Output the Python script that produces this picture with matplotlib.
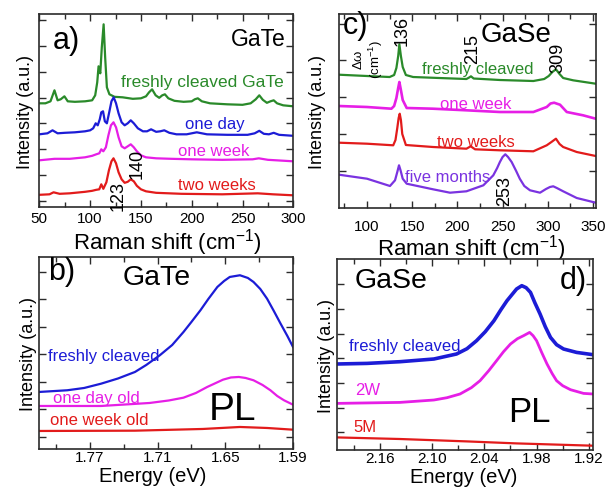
import numpy as np
import matplotlib
matplotlib.use('Agg')
import matplotlib.pyplot as plt
from matplotlib.ticker import MultipleLocator, FixedLocator

plt.rcParams['font.family'] = ['Liberation Sans', 'DejaVu Sans']
plt.rcParams['mathtext.fontset'] = 'custom'
plt.rcParams['mathtext.rm'] = 'Liberation Sans'
plt.rcParams['mathtext.it'] = 'Liberation Sans:italic'
plt.rcParams['mathtext.default'] = 'regular'

GREEN, BLUE, MAGENTA, RED, PURPLE = '#2a8a2a', '#1c1cd6', '#e61ee6', '#e21b1b', '#7a33e0'

# ---- a) GaTe Raman ----
a_fresh_x = [50, 56, 61, 64.9, 68, 71, 74.7, 78, 85, 95, 102, 105, 107, 108.3, 110, 111.5, 113.3, 114.8,
             116.5, 119, 124, 132, 142, 150, 155, 158, 161, 164.5, 168, 171, 173.6, 177, 183, 192, 200,
             203, 206, 210, 218, 235, 250, 258, 263, 266.5, 270, 274, 277.5, 280.7, 284, 290, 300]
a_fresh_y = [104, 104, 106, 117, 107, 108, 111, 106, 105.5, 106, 107, 112, 125, 141, 134, 160, 183, 150,
             120, 113, 110.5, 110, 108.5, 109, 111, 115, 118, 112, 109.5, 112, 113, 109, 106.5, 105.5, 106,
             108, 109, 106, 104, 103, 102.5, 104, 108, 112, 107.5, 104.5, 106, 107, 104, 102, 101]
a_day_x = [50, 58, 63, 68, 75, 85, 95, 100, 103, 105.5, 107.5, 109.5, 111, 112.7, 114.5, 116.5, 119, 121,
           123.2, 125.5, 128, 131, 134, 137, 140, 143, 147, 152, 156, 160, 165, 169, 173, 178, 185, 195,
           205, 215, 235, 255, 262, 266.5, 271, 276, 280.7, 286, 300]
a_day_y = [73, 74, 77, 74, 74.5, 75, 76, 77, 79, 84, 82, 88, 95, 96, 86, 84, 96, 106,
           110, 104, 94, 85, 82, 84, 87, 84, 79, 76, 76, 78, 75.5, 76, 77, 74.5, 73, 73,
           75, 73, 72.5, 72.5, 74, 76.5, 73.5, 73, 74.5, 72.5, 71.5]
a_week_x = [50, 65, 80, 95, 102, 106, 109, 111, 113, 115.5, 118, 120.5, 123, 125.5, 128, 131, 134, 137,
            140, 143, 146, 150, 155, 165, 180, 200, 230, 260, 266, 275, 300]
a_week_y = [47, 48.5, 48.5, 50, 51.5, 53, 54, 58, 56, 60, 72, 82, 85, 80, 70, 61, 59, 61,
            63, 60, 56, 52, 50, 49, 48.5, 48, 47.5, 48, 49, 47.5, 46]
a_2w_x = [50, 60, 64, 70, 80, 95, 102, 106, 109, 111, 113, 116, 118.5, 121, 123, 125.5, 128, 131, 134,
          137, 140, 143, 146, 150, 155, 165, 190, 230, 265, 280, 300]
a_2w_y = [12.5, 13, 15, 13.5, 14, 15.5, 16.5, 17.5, 18, 23, 18.5, 25, 37, 46, 49, 44, 35, 28, 24.5,
          25.5, 28, 26, 21.5, 18, 16, 14.5, 13.5, 13, 14, 13, 12]

# ---- c) GaSe Raman ----
c_fresh_x = [69, 100, 125, 130, 132.5, 134.5, 135.8, 137.5, 139.5, 143, 151, 180, 210, 213, 215, 218,
             247, 284, 296, 301, 305, 309, 313, 317, 328, 353]
c_fresh_y = [133.3, 132, 131, 133, 140, 152, 163.7, 152, 141, 133, 131, 130, 129, 130.5, 131.7, 129.5,
             128, 127, 129, 132, 136, 138.7, 134, 130, 127.7, 124.3]
c_week_x = [69, 100, 127, 130, 132.5, 134.5, 135.8, 137.5, 139.5, 143.9, 173, 210, 247, 284, 298.8,
            303, 307, 309.5, 313.5, 321, 339, 353]
c_week_y = [102, 101, 99.3, 102, 110, 120, 126, 118, 108, 100, 99.3, 97.7, 96, 96, 101,
            104.5, 105.3, 104.5, 103.3, 96, 92.7, 89.3]
c_2w_x = [69, 100, 129, 131.5, 133.5, 135, 136.2, 137.5, 139, 143, 173, 210, 214.7, 219.5, 247, 284,
          298.8, 304, 309, 313, 317, 332, 353]
c_2w_y = [65.3, 64.3, 62.7, 68, 80, 90, 94.3, 88, 74, 63, 61, 59.3, 61.7, 58.7, 57.7, 56.7,
          62.7, 66, 69.3, 64, 61, 56, 52]
c_5m_x = [69, 100, 125.4, 131, 133.5, 135.4, 137, 139.5, 143.9, 173, 191.8, 210, 228.7, 239.7, 244, 247,
          250, 253, 256, 260, 265, 269, 274, 280.3, 291.4, 298, 302.4, 306, 310, 317, 332, 353]
c_5m_y = [33.3, 29.3, 22, 27.7, 36, 42.7, 38, 29.3, 24.3, 18.7, 15.3, 16.7, 22.7, 32.7, 40, 46,
          51, 53.7, 51, 46, 37, 29.3, 22, 17.7, 15.3, 19, 21, 21.7, 20, 16.7, 10, 5.3]

# ---- b) GaTe PL ----
b_fresh_x = [1.815, 1.79, 1.775, 1.76, 1.745, 1.73, 1.72, 1.708, 1.697, 1.687, 1.68, 1.672, 1.665, 1.657,
             1.651, 1.646, 1.637, 1.63, 1.625, 1.619, 1.613, 1.607, 1.601, 1.595, 1.59]
b_fresh_y = [60, 61.7, 64, 68.3, 73.5, 80, 87, 96.7, 107, 120, 130, 141.7, 153, 165,
             171, 175, 176.7, 174, 170, 163, 153.3, 141, 128.3, 116, 105]
b_day_x = [1.815, 1.76, 1.717, 1.70, 1.687, 1.676, 1.666, 1.652, 1.645, 1.638, 1.632, 1.625, 1.617,
           1.61, 1.604, 1.598, 1.59]
b_day_y = [46, 46, 49, 51.5, 54.3, 59, 65, 72.3, 74.5, 75, 74, 71.7, 67, 61.7, 56, 51.7, 47.3]
b_week_x = [1.815, 1.73, 1.67, 1.637, 1.613, 1.59]
b_week_y = [21, 21.3, 23, 25, 24, 22.3]

# ---- d) GaSe PL ----
d_fresh_x = [2.21, 2.175, 2.137, 2.098, 2.072, 2.06, 2.049, 2.039, 2.029, 2.021, 2.014, 2.003, 1.997,
             1.992, 1.987, 1.982, 1.976, 1.970, 1.964, 1.957, 1.949, 1.934, 1.915]
d_fresh_y = [91.7, 92.3, 94, 96.7, 101.7, 107, 115, 124, 135, 146, 155, 166.7, 170,
             168, 163.3, 153, 141.7, 129, 118.3, 111, 106.7, 103.3, 101]
d_2w_x = [2.21, 2.137, 2.098, 2.083, 2.068, 2.055, 2.045, 2.035, 2.026, 2.018, 2.01, 2.002, 1.995, 1.988,
          1.984, 1.98, 1.974, 1.968, 1.962, 1.957, 1.95, 1.941, 1.926, 1.915]
d_2w_y = [52.3, 53.3, 55.7, 58, 61.7, 68, 75, 85, 95, 104, 111.7, 117, 120, 123.3,
          120, 115, 103, 91.7, 82, 75, 70, 66, 62.3, 61.7]
d_5m_x = [2.21, 2.137, 2.06, 2.003, 1.915]
d_5m_y = [18.3, 16.7, 14.3, 12.3, 10]


def style(ax, yticks, pad=3):
    for s in ax.spines.values():
        s.set_linewidth(1.2)
        s.set_color('#2b2b2b')
    ax.tick_params(which='both', direction='in', top=True, right=True, labelsize=11,
                   color='#2b2b2b', width=1.0, pad=pad)
    ax.tick_params(which='major', length=5)
    ax.tick_params(which='minor', length=3.5)
    ax.yaxis.set_major_locator(FixedLocator(yticks))
    ax.set_yticklabels([])
    ax.set_ylabel('Intensity (a.u.)', fontsize=13, labelpad=1)


fig = plt.figure(figsize=(6.05, 4.89), dpi=100)
ax_a = fig.add_axes([0.065, 0.574, 0.4198, 0.3953])
ax_c = fig.add_axes([0.5603, 0.5726, 0.4248, 0.3967])
ax_b = fig.add_axes([0.0645, 0.0798, 0.4198, 0.3933])
ax_d = fig.add_axes([0.557, 0.0777, 0.4231, 0.3906])

lw = 1.6

# a)
for x, y, c in [(a_fresh_x, a_fresh_y, GREEN), (a_day_x, a_day_y, BLUE),
                (a_week_x, a_week_y, MAGENTA), (a_2w_x, a_2w_y, RED)]:
    ax_a.plot(x, y, color=c, lw=lw)
ax_a.set_xlim(50, 300)
ax_a.set_ylim(0, 193.3)
ax_a.xaxis.set_major_locator(MultipleLocator(50))
ax_a.xaxis.set_minor_locator(MultipleLocator(25))
style(ax_a, np.arange(6.6, 193, 25.8))
ax_a.set_xlabel('Raman shift (cm$^{-1}$)', fontsize=16)
ax_a.xaxis.set_label_coords(0.503, -0.098)
ax_a.text(63.5, 167, 'a)', fontsize=22, ha='left', va='center')
ax_a.text(292, 169, 'GaTe', fontsize=16.5, ha='right', va='center')
ax_a.text(291, 126, 'freshly cleaved GaTe', fontsize=12.5, color=GREEN, ha='right', va='center')
ax_a.text(222.6, 84, 'one day', fontsize=12, color=BLUE, ha='center', va='center')
ax_a.text(222, 57, 'one week', fontsize=12, color=MAGENTA, ha='center', va='center')
ax_a.text(224.7, 23, 'two weeks', fontsize=12, color=RED, ha='center', va='center')
ax_a.text(127.8, 12, '123', fontsize=13, rotation=90, ha='center', va='center', clip_on=False)
ax_a.text(146.6, 44, '140', fontsize=13, rotation=90, ha='center', va='center')

# c)
for x, y, c, w in [(c_fresh_x, c_fresh_y, GREEN, lw), (c_week_x, c_week_y, MAGENTA, 1.9),
                   (c_2w_x, c_2w_y, RED, lw), (c_5m_x, c_5m_y, PURPLE, lw)]:
    ax_c.plot(x, y, color=c, lw=w)
ax_c.set_xlim(69, 353.3)
ax_c.set_ylim(0, 194)
ax_c.xaxis.set_major_locator(MultipleLocator(50))
ax_c.xaxis.set_minor_locator(MultipleLocator(25))
style(ax_c, np.arange(37.5, 194, 36.7), pad=8)
ax_c.set_xlabel('Raman shift (cm$^{-1}$)', fontsize=16)
ax_c.xaxis.set_label_coords(0.514, -0.125)
ax_c.text(73.5, 183, 'c)', fontsize=22, ha='left', va='center')
ax_c.text(138.7, 178, '136', fontsize=13, rotation=90, ha='center', va='center')
ax_c.text(217, 160.5, '215', fontsize=13, rotation=90, ha='center', va='center')
ax_c.text(311, 151.5, '309', fontsize=13, rotation=90, ha='center', va='center')
ax_c.text(265.4, 174, 'GaSe', fontsize=20, ha='center', va='center')
ax_c.text(101.5, 149, '$\\Delta\\omega$\n(cm$^{-1}$)', fontsize=9.5, rotation=90,
          ha='center', va='center', linespacing=1.1)
ax_c.text(222, 140, 'freshly cleaved', fontsize=12, color=GREEN, ha='center', va='center')
ax_c.text(220.6, 105, 'one week', fontsize=12, color=MAGENTA, ha='center', va='center')
ax_c.text(220, 67, 'two weeks', fontsize=12, color=RED, ha='center', va='center')
ax_c.text(189.6, 32, 'five months', fontsize=12, color=PURPLE, ha='center', va='center')
ax_c.text(252.7, 17.5, '253', fontsize=13, rotation=90, ha='center', va='center')

# b)
for x, y, c in [(b_fresh_x, b_fresh_y, BLUE), (b_day_x, b_day_y, MAGENTA), (b_week_x, b_week_y, RED)]:
    ax_b.plot(x, y, color=c, lw=lw)
ax_b.set_xlim(1.815, 1.59)
ax_b.set_ylim(3, 195.3)
ax_b.xaxis.set_major_locator(FixedLocator([1.77, 1.71, 1.65, 1.59]))
ax_b.xaxis.set_minor_locator(FixedLocator([1.80, 1.74, 1.68, 1.62]))
ax_b.set_xticklabels(['1.77', '1.71', '1.65', '1.59'])
style(ax_b, np.arange(15, 195, 27.5), pad=0.5)
ax_b.set_xlabel('Energy (eV)', fontsize=14.5)
ax_b.xaxis.set_label_coords(0.449, -0.091)
ax_b.text(1.807, 181, 'b)', fontsize=22, ha='left', va='center')
ax_b.text(1.7104, 175, 'GaTe', fontsize=20.5, ha='center', va='center')
ax_b.text(1.807, 96, 'freshly cleaved', fontsize=12, color=BLUE, ha='left', va='center')
ax_b.text(1.8029, 54, 'one day old', fontsize=12, color=MAGENTA, ha='left', va='center')
ax_b.text(1.8056, 32, 'one week old', fontsize=12, color=RED, ha='left', va='center')
ax_b.text(1.6433, 43, 'PL', fontsize=28, ha='center', va='center')

# d)
for x, y, c, w in [(d_fresh_x, d_fresh_y, BLUE, 2.6), (d_2w_x, d_2w_y, MAGENTA, 2.0), (d_5m_x, d_5m_y, RED, lw)]:
    ax_d.plot(x, y, color=c, lw=w)
ax_d.set_xlim(2.2094, 1.9152)
ax_d.set_ylim(5.7, 196.7)
ax_d.xaxis.set_major_locator(FixedLocator([2.16, 2.10, 2.04, 1.98, 1.92]))
ax_d.xaxis.set_minor_locator(FixedLocator([2.19, 2.13, 2.07, 2.01, 1.95]))
ax_d.set_xticklabels(['2.16', '2.10', '2.04', '1.98', '1.92'])
style(ax_d, np.arange(23.3, 196, 24.7), pad=0.5)
ax_d.set_xlabel('Energy (eV)', fontsize=14.5)
ax_d.xaxis.set_label_coords(0.496, -0.0864)
ax_d.text(2.1887, 175.7, 'GaSe', fontsize=20.5, ha='left', va='center')
ax_d.text(1.9221, 175.7, 'd)', fontsize=22, ha='right', va='center')
ax_d.text(2.1956, 110.7, 'freshly cleaved', fontsize=12, color=BLUE, ha='left', va='center')
ax_d.text(2.1887, 66.7, '2W', fontsize=12, color=MAGENTA, ha='left', va='center')
ax_d.text(2.191, 29.7, '5M', fontsize=12, color=RED, ha='left', va='center')
ax_d.text(1.9887, 44.7, 'PL', fontsize=25, ha='center', va='center')

fig.savefig('out.png', dpi=100)
